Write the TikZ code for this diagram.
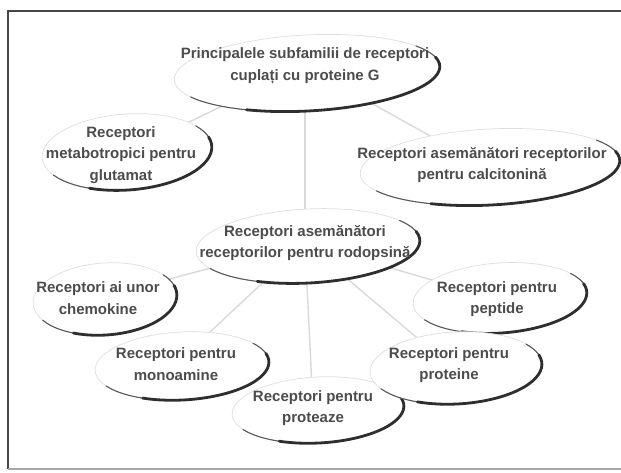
\documentclass[tikz,border=0pt]{standalone}
\usepackage{fontspec}
\setmainfont{Liberation Sans}
\usetikzlibrary{backgrounds}
\begin{document}
\begin{tikzpicture}[x=1pt,y=-1pt,
  label text/.style={font=\bfseries\fontsize{15}{21.5}\selectfont, text=black!70,
    align=center, inner sep=1pt},
  ovalfill/.style={fill=white, draw=black!13, line width=0.7pt},
  ovalthin/.style={draw=black!65, line width=1.1pt, line cap=round},
  ovalthick/.style={draw=black!82, line width=2.8pt, line cap=round},
  link/.style={draw=black!15, line width=1.4pt},
  frameline/.style={draw=black!72, line width=1.6pt},
  pics/oval/.style args={#1/#2}{code={
    \path[ovalfill] (0,0) ellipse [x radius=#1, y radius=#2];
    \draw[ovalthin] (152:#1 and #2) arc [start angle=152, end angle=-34, x radius=#1, y radius=#2];
    \draw[ovalthick] (118:#1 and #2) arc [start angle=118, end angle=-14, x radius=#1, y radius=#2];
  }}]
\useasboundingbox (0,0) rectangle (621,473);

% frame (open on the right)
\draw[frameline] (621,11) -- (8,11) -- (8,469);
\draw[frameline, draw=black!35, line width=1.2pt] (8,469) -- (621,469);

% ovals behind the labels
\pic[rotate=3] at (307,73)  {oval=133/38};
\pic[rotate=4] at (127,152) {oval=85/38};
\pic[rotate=3] at (490,167) {oval=130/38};
\pic[rotate=3] at (308,246) {oval=112/37};
\pic[rotate=4] at (105,299) {oval=72/36};
\pic[rotate=4] at (500,298) {oval=87/35};
\pic[rotate=3] at (318,410) {oval=86/33};
\pic[rotate=3] at (182,366) {oval=87/34};
\pic[rotate=3] at (456,368) {oval=86/36};

% labels
\node[label text] (top)  at (305,66)  {Principalele subfamilii de receptori\\cuplați cu proteine G};
\node[label text] (meta) at (121,155) {Receptori\\metabotropici pentru\\glutamat};
\node[label text] (calc) at (482,165) {Receptori asemănători receptorilor\\pentru calcitonină};
\node[label text] (rod)  at (305,243) {Receptori asemănători\\receptorilor pentru rodopsină};
\node[label text] (chem) at (98,298)  {Receptori ai unor\\chemokine};
\node[label text] (pept) at (497,299) {Receptori pentru\\peptide};
\node[label text] (mono) at (176,364) {Receptori pentru\\monoamine};
\node[label text] (prot) at (449,365) {Receptori pentru\\proteine};
\node[label text] (ptz)  at (313,408) {Receptori pentru\\proteaze};

% faint links, kept under the ovals
\begin{pgfonlayer}{background}
  \draw[link] (top.center) -- (rod.center);
  \draw[link] (top.center) -- (meta.center);
  \draw[link] (top.center) -- (calc.center);
  \draw[link] (rod.center) -- (chem.center);
  \draw[link] (rod.center) -- (mono.center);
  \draw[link] (rod.center) -- (ptz.center);
  \draw[link] (rod.center) -- (prot.center);
  \draw[link] (rod.center) -- (pept.center);
\end{pgfonlayer}
\end{tikzpicture}
\end{document}
